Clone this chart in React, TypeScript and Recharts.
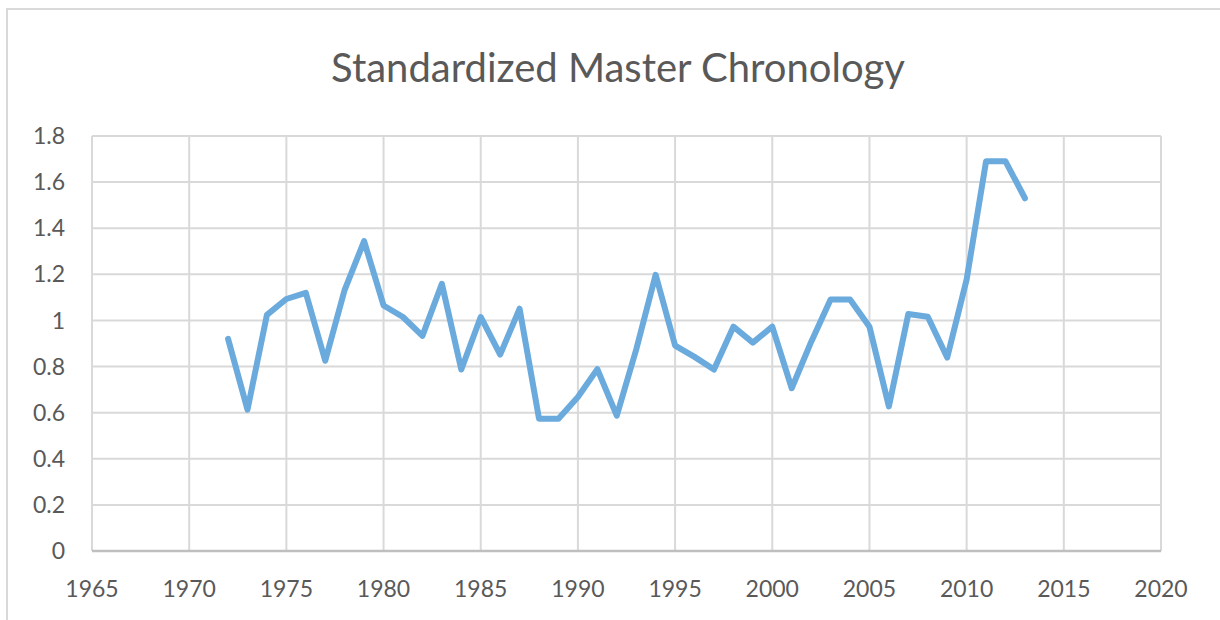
import { LineChart, Line, XAxis, YAxis, CartesianGrid } from "recharts";

const years = [
  1972, 1973, 1974, 1975, 1976, 1977, 1978, 1979, 1980, 1981, 1982, 1983, 1984,
  1985, 1986, 1987, 1988, 1989, 1990, 1991, 1992, 1993, 1994, 1995, 1996, 1997,
  1998, 1999, 2000, 2001, 2002, 2003, 2004, 2005, 2006, 2007, 2008, 2009, 2010,
  2011, 2012, 2013,
];

const index = [
  0.92, 0.613, 1.024, 1.093, 1.12, 0.825, 1.133, 1.344, 1.065, 1.015, 0.933,
  1.159, 0.787, 1.015, 0.852, 1.051, 0.574, 0.574, 0.668, 0.789, 0.587, 0.874,
  1.198, 0.891, 0.842, 0.787, 0.973, 0.904, 0.973, 0.706, 0.907, 1.091, 1.091,
  0.973, 0.627, 1.028, 1.016, 0.839, 1.178, 1.69, 1.69, 1.53,
];

const xTicks = [1965, 1970, 1975, 1980, 1985, 1990, 1995, 2000, 2005, 2010, 2015, 2020];
const yTicks = [0, 0.2, 0.4, 0.6, 0.8, 1, 1.2, 1.4, 1.6, 1.8];

const data = years.map((year, i) => ({ year, value: index[i] }));

const FONT = "Lato, 'Open Sans', sans-serif";
const TEXT = "#595959";

export default function App() {
  return (
    <div
      style={{
        position: "absolute",
        left: 0,
        top: 0,
        width: 1220,
        height: 620,
        background: "#fff",
        overflow: "hidden",
      }}
    >
      <div
        style={{
          position: "absolute",
          left: 6,
          top: 8,
          width: 1230,
          height: 630,
          borderTop: "2px solid #d9d9d9",
          borderLeft: "2px solid #d9d9d9",
        }}
      />
      <LineChart
        width={1220}
        height={620}
        data={data}
        margin={{ top: 136, right: 59, bottom: 0, left: 0 }}
        style={{ position: "absolute", left: 0, top: 0 }}
      >
        <CartesianGrid stroke="#d9d9d9" strokeWidth={2} />
        <XAxis
          dataKey="year"
          type="number"
          domain={[1965, 2020]}
          ticks={xTicks}
          height={69}
          tickSize={0}
          tickMargin={30}
          tickLine={false}
          axisLine={{ stroke: "#bfbfbf", strokeWidth: 2.5 }}
          tick={{ fill: TEXT, fontSize: 23, fontFamily: FONT }}
        />
        <YAxis
          type="number"
          domain={[0, 1.8]}
          ticks={yTicks}
          width={92}
          tickSize={0}
          tickMargin={27}
          tickLine={false}
          axisLine={false}
          tick={{ fill: TEXT, fontSize: 23, fontFamily: FONT }}
        />
        <Line
          type="linear"
          dataKey="value"
          stroke="#6aaadd"
          strokeWidth={6}
          strokeLinejoin="round"
          strokeLinecap="round"
          dot={false}
          isAnimationActive={false}
        />
      </LineChart>
      <svg
        width={1220}
        height={120}
        style={{ position: "absolute", left: 0, top: 0, pointerEvents: "none" }}
      >
        <text
          x={618}
          y={82}
          textAnchor="middle"
          fill={TEXT}
          fontSize={40}
          fontFamily={FONT}
        >
          Standardized Master Chronology
        </text>
      </svg>
    </div>
  );
}
